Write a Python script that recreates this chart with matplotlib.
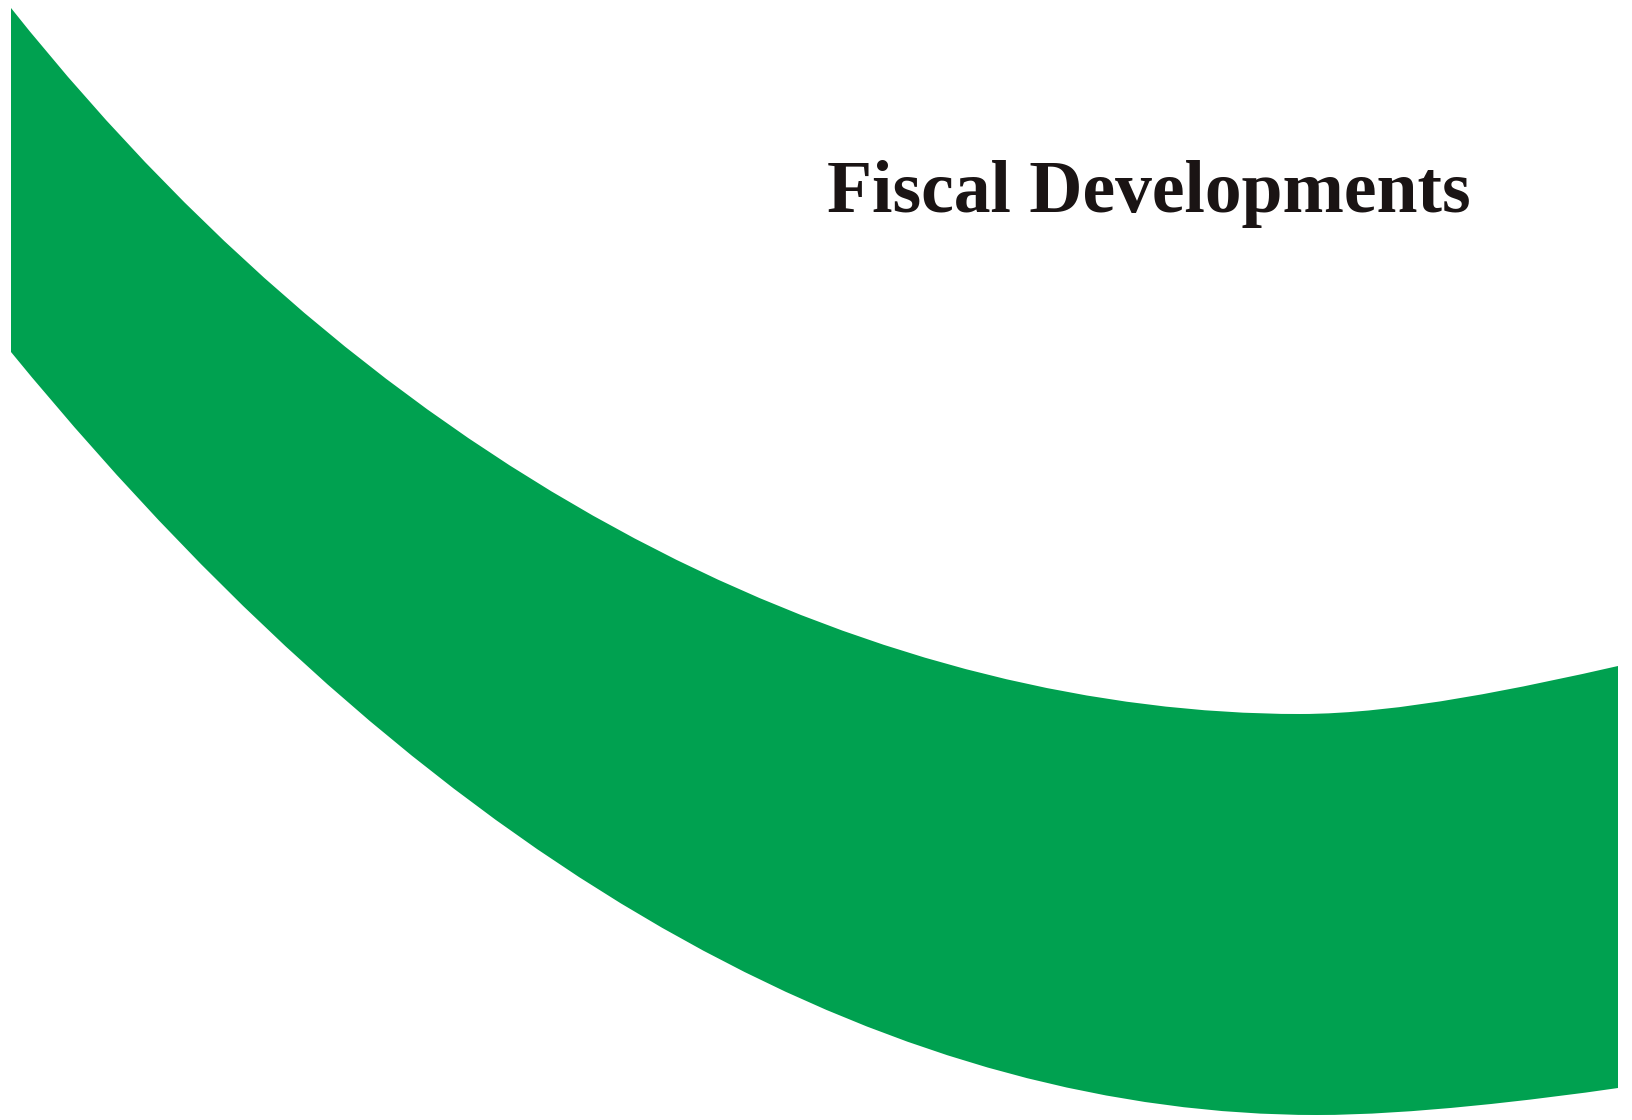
import matplotlib.pyplot as plt
from matplotlib.path import Path
from matplotlib.patches import PathPatch

# green band edges as bezier control points (pixels, y down)
# each edge: start, ctrl, ctrl, low point, ctrl, ctrl, end
top_x = [11, 411, 900, 1300, 1400, 1525, 1618]
top_y = [8, 510, 714, 714, 714, 687, 666]

bot_x = [11, 461, 917, 1317, 1410, 1535, 1618]
bot_y = [352, 901, 1115, 1115, 1115, 1100, 1088]

title = "Fiscal Developments"
green = '#00A150'

fig = plt.figure(figsize=(16.32, 11.2), dpi=100)
ax = fig.add_axes([0, 0, 1, 1])
ax.set_xlim(0, 1632)
ax.set_ylim(1120, 0)
ax.axis('off')

verts = []
codes = []
# top edge, left to right
verts.append((top_x[0], top_y[0]))
codes.append(Path.MOVETO)
for i in range(1, len(top_x)):
    verts.append((top_x[i], top_y[i]))
    codes.append(Path.CURVE4)
# right side down, then bottom edge right to left
verts.append((bot_x[-1], bot_y[-1]))
codes.append(Path.LINETO)
for i in range(len(bot_x) - 2, -1, -1):
    verts.append((bot_x[i], bot_y[i]))
    codes.append(Path.CURVE4)
verts.append((top_x[0], top_y[0]))
codes.append(Path.CLOSEPOLY)

band = PathPatch(Path(verts, codes), facecolor=green, edgecolor='none')
ax.add_patch(band)

ax.text(827, 212, title, fontsize=53, fontweight='bold',
        family=['Liberation Serif', 'DejaVu Serif'], color='#1a1414',
        ha='left', va='baseline')

plt.savefig('out.png', dpi=100)
